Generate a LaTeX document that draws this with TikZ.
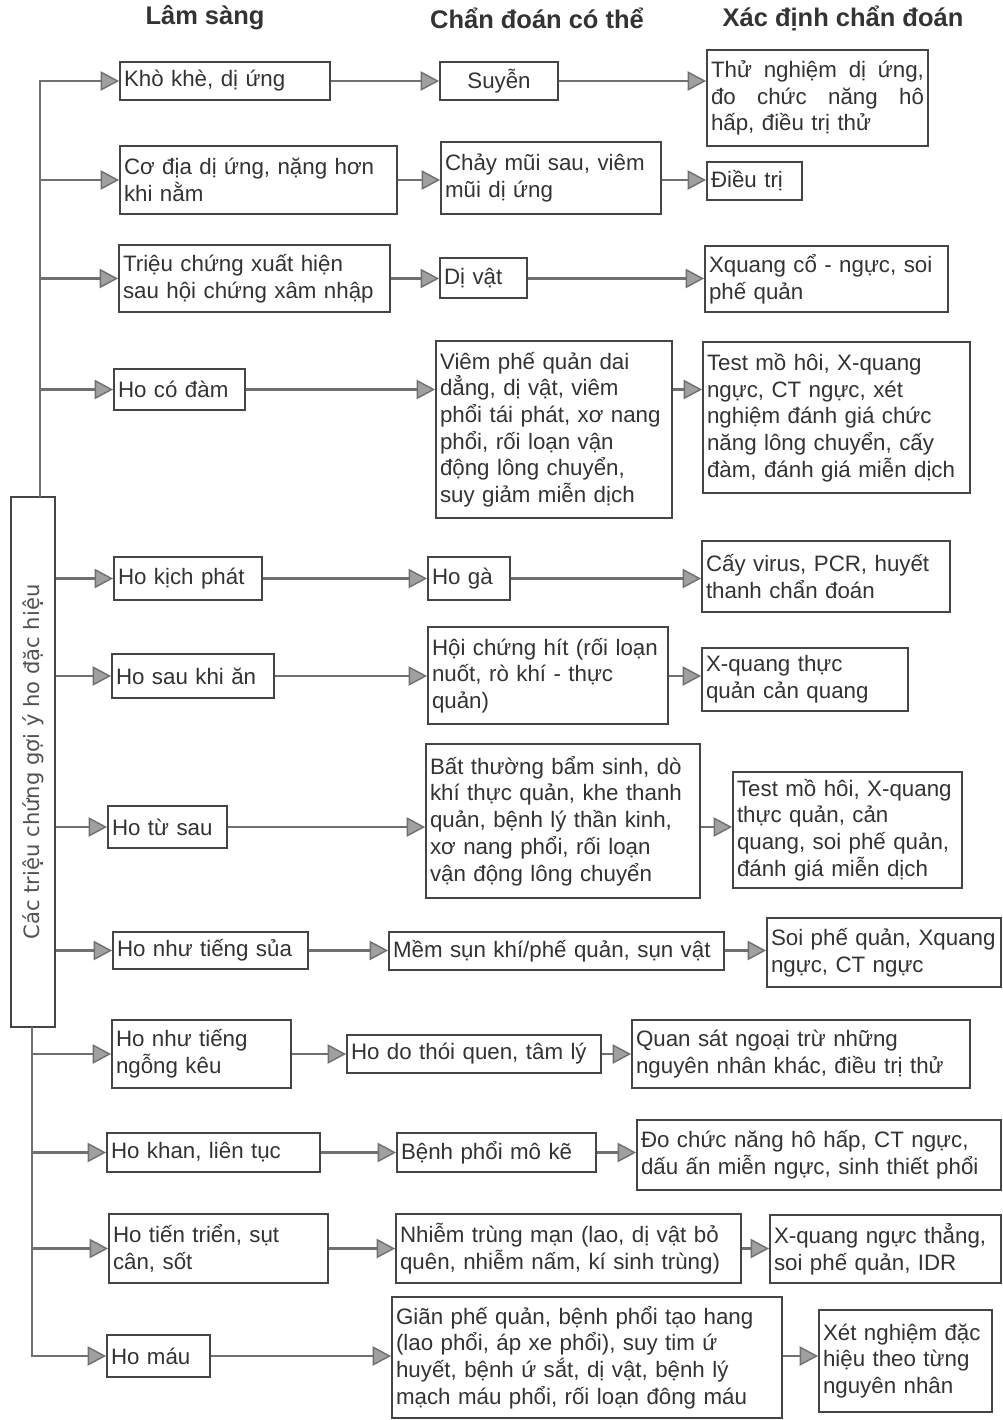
\documentclass[tikz,border=0pt]{standalone}
\usepackage{fontspec}
\setmainfont{Liberation Sans}
\newfontfamily\sidefont{DejaVu Sans}
\usepackage{xcolor}
\usetikzlibrary{arrows.meta}

\definecolor{ink}{HTML}{333333}
\definecolor{boxline}{HTML}{454545}
\definecolor{wire}{HTML}{707070}
\definecolor{tipfill}{HTML}{A0A0A0}

\begin{document}
\begin{tikzpicture}[
    x=0.02cm, y=-0.02cm,
    font=\fontsize{12.7}{15.2}\selectfont,
    box/.style={draw=boxline, line width=1.1pt, text=ink, align=left, inner xsep=0.08cm, inner ysep=0.04cm},
    head/.style={font=\fontsize{14.5}{17}\selectfont\bfseries, text=ink},
    side/.style={draw=boxline, line width=1.1pt, text=ink!85, minimum width=0.88cm, minimum height=10.6cm, inner sep=0pt},
    arr/.style={draw=wire, line width=1.4pt, -{Triangle[length=10.5pt,width=11pt,fill=tipfill,line width=0.8pt]}}
]

\path[fill=white, use as bounding box] (0,0) rectangle (1003,1420);

% Column headings
\node[head] (hd1) at (205,18) {Lâm sàng};
\node[head] (hd2) at (537,18) {Chẩn đoán có thể};
\node[head] (hd3) at (843,18) {Xác định chẩn đoán};

% Side label and trunk
\node[side] (lab) at (33,762) {\rotatebox{90}{\sidefont\fontsize{12}{14}\selectfont Các triệu chứng gợi ý ho đặc hiệu}};
\coordinate (trunkA) at (40,497);
\coordinate (trunkB) at (32,1027);

% Row 1
\node[box, text width=4.04cm, minimum height=0.76cm] (a1) at (225,81) {Khò khè, dị ứng};
\node[box, text width=2.20cm, minimum height=0.76cm, align=center] (b1) at (499,81) {Suyễn};
\node[box, text width=4.26cm, minimum height=1.92cm] (c1) at (817.5,98) {\leavevmode\hbox to\hsize{Thử\hfil\ nghiệm\hfil\ dị\hfil\ ứng,}\\\leavevmode\hbox to\hsize{đo\hfil\ chức\hfil\ năng\hfil\ hô}\\hấp, điều trị thử};

% Row 2
\node[box, text width=5.38cm, minimum height=1.36cm] (a2) at (258.5,180) {Cơ địa dị ứng, nặng hơn\\khi nằm};
\node[box, text width=4.24cm, minimum height=1.44cm] (b2) at (551,178) {Chảy mũi sau, viêm\\mũi dị ứng};
\node[box, text width=1.74cm, minimum height=0.76cm] (c2) at (754.5,181) {Điều trị};

% Row 3
\node[box, text width=5.26cm, minimum height=1.34cm] (a3) at (254.5,278.5) {Triệu chứng xuất hiện\\sau hội chứng xâm nhập};
\node[box, text width=1.58cm, minimum height=0.80cm] (b3) at (483.5,278) {Dị vật};
\node[box, text width=4.70cm, minimum height=1.32cm] (c3) at (826.5,279) {Xquang cổ - ngực, soi\\phế quản};

% Row 4
\node[box, text width=2.46cm, minimum height=0.82cm] (a4) at (179.5,389.5) {Ho có đàm};
\node[box, text width=4.56cm, minimum height=3.54cm] (b4) at (554,429.5) {Viêm phế quản dai\\dẳng, dị vật, viêm\\phổi tái phát, xơ nang\\phổi, rối loạn vận\\động lông chuyển,\\suy giảm miễn dịch};
\node[box, text width=5.18cm, minimum height=3.02cm] (c4) at (836.5,417.5) {Test mồ hôi, X-quang\\ngực, CT ngực, xét\\nghiệm đánh giá chức\\năng lông chuyển, cấy\\đàm, đánh giá miễn dịch};

% Row 5
\node[box, text width=2.80cm, minimum height=0.86cm] (a5) at (188,578.5) {Ho kịch phát};
\node[box, text width=1.48cm, minimum height=0.86cm] (b5) at (469,578.5) {Ho gà};
\node[box, text width=4.80cm, minimum height=1.42cm] (c5) at (826,576.5) {Cấy virus, PCR, huyết\\thanh chẩn đoán};

% Row 6
\node[box, text width=3.08cm, minimum height=0.88cm] (a6) at (193,676) {Ho sau khi ăn};
\node[box, text width=4.64cm, minimum height=1.94cm] (b6) at (548,675.5) {Hội chứng hít (rối loạn\\nuốt, rò khí - thực\\quản)};
\node[box, text width=3.96cm, minimum height=1.26cm] (c6) at (805,679.5) {X-quang thực\\quản cản quang};

% Row 7
\node[box, text width=2.22cm, minimum height=0.84cm] (a7) at (167.5,827) {Ho từ sau};
\node[box, text width=5.32cm, minimum height=3.08cm] (b7) at (563,821) {Bất thường bẩm sinh, dò\\khí thực quản, khe thanh\\quản, bệnh lý thần kinh,\\xơ nang phổi, rối loạn\\vận động lông chuyển};
\node[box, text width=4.42cm, minimum height=2.32cm] (c7) at (847.5,830) {Test mồ hôi, X-quang\\thực quản, cản\\quang, soi phế quản,\\đánh giá miễn dịch};

% Row 8
\node[box, text width=3.74cm, minimum height=0.74cm] (a8) at (210.5,950.5) {Ho như tiếng sủa};
\node[box, text width=6.54cm, minimum height=0.76cm] (b8) at (556.5,951) {Mềm sụn khí/phế quản, sụn vật};
\node[box, text width=4.52cm, minimum height=1.38cm] (c8) at (884,952.5) {Soi phế quản, Xquang\\ngực, CT ngực};

% Row 9
\node[box, text width=3.42cm, minimum height=1.36cm] (a9) at (201.5,1054) {Ho như tiếng\\ngỗng kêu};
\node[box, text width=4.92cm, minimum height=0.76cm] (b9) at (474,1054) {Ho do thói quen, tâm lý};
\node[box, text width=6.60cm, minimum height=1.36cm] (c9) at (801,1054) {Quan sát ngoại trừ những\\nguyên nhân khác, điều trị thử};

% Row 10
\node[box, text width=4.10cm, minimum height=0.78cm] (a10) at (213.5,1152.5) {Ho khan, liên tục};
\node[box, text width=3.82cm, minimum height=0.78cm] (b10) at (496.5,1152.5) {Bệnh phổi mô kẽ};
\node[box, text width=7.12cm, minimum height=1.40cm] (c10) at (819,1155) {Đo chức năng hô hấp, CT ngực,\\dấu ấn miễn ngực, sinh thiết phổi};

% Row 11
\node[box, text width=4.22cm, minimum height=1.38cm] (a11) at (218.5,1248.5) {Ho tiến triển, sụt\\cân, sốt};
\node[box, text width=6.74cm, minimum height=1.38cm] (b11) at (568.5,1248.5) {Nhiễm trùng mạn (lao, dị vật bỏ\\quên, nhiễm nấm, kí sinh trùng)};
\node[box, text width=4.46cm, minimum height=1.36cm] (c11) at (885.5,1249) {X-quang ngực thẳng,\\soi phế quản, IDR};

% Row 12
\node[box, text width=1.90cm, minimum height=0.84cm] (a12) at (158.5,1356) {Ho máu};
\node[box, text width=7.64cm, minimum height=2.42cm] (b12) at (587,1357.5) {Giãn phế quản, bệnh phổi tạo hang\\(lao phổi, áp xe phổi), suy tim ứ\\huyết, bệnh ứ sắt, dị vật, bệnh lý\\mạch máu phổi, rối loạn đông máu};
\node[box, text width=3.30cm, minimum height=2.04cm] (c12) at (905.5,1361) {Xét nghiệm đặc\\hiệu theo từng\\nguyên nhân};

% Trunk to symptoms
\draw[arr] (trunkA) |- (a1);
\draw[arr] (trunkA |- a2) -- (a2);
\draw[arr] (trunkA |- a3) -- (a3);
\draw[arr] (trunkA |- a4) -- (a4);
\draw[arr] (lab.east |- a5) -- (a5);
\draw[arr] (lab.east |- a6) -- (a6);
\draw[arr] (lab.east |- a7) -- (a7);
\draw[arr] (lab.east |- a8) -- (a8);
\draw[arr] (trunkB |- a9) -- (a9);
\draw[arr] (trunkB |- a10) -- (a10);
\draw[arr] (trunkB |- a11) -- (a11);
\draw[arr] (trunkB) |- (a12);

% Symptom -> possible diagnosis
\draw[arr] (a1.east) -- (a1.east -| b1.west);
\draw[arr] (a2.east) -- (a2.east -| b2.west);
\draw[arr] (a3.east) -- (a3.east -| b3.west);
\draw[arr] (a4.east) -- (a4.east -| b4.west);
\draw[arr] (a5.east) -- (a5.east -| b5.west);
\draw[arr] (a6.east) -- (a6.east -| b6.west);
\draw[arr] (a7.east) -- (a7.east -| b7.west);
\draw[arr] (a8.east) -- (a8.east -| b8.west);
\draw[arr] (a9.east) -- (a9.east -| b9.west);
\draw[arr] (a10.east) -- (a10.east -| b10.west);
\draw[arr] (a11.east) -- (a11.east -| b11.west);
\draw[arr] (a12.east) -- (a12.east -| b12.west);

% Possible diagnosis -> confirmation
\draw[arr] (a1.east -| b1.east) -- (a1.east -| c1.west);
\draw[arr] (a2.east -| b2.east) -- (a2.east -| c2.west);
\draw[arr] (a3.east -| b3.east) -- (a3.east -| c3.west);
\draw[arr] (a4.east -| b4.east) -- (a4.east -| c4.west);
\draw[arr] (a5.east -| b5.east) -- (a5.east -| c5.west);
\draw[arr] (a6.east -| b6.east) -- (a6.east -| c6.west);
\draw[arr] (a7.east -| b7.east) -- (a7.east -| c7.west);
\draw[arr] (a8.east -| b8.east) -- (a8.east -| c8.west);
\draw[arr] (a9.east -| b9.east) -- (a9.east -| c9.west);
\draw[arr] (a10.east -| b10.east) -- (a10.east -| c10.west);
\draw[arr] (a11.east -| b11.east) -- (a11.east -| c11.west);
\draw[arr] (a12.east -| b12.east) -- (a12.east -| c12.west);

\end{tikzpicture}
\end{document}
